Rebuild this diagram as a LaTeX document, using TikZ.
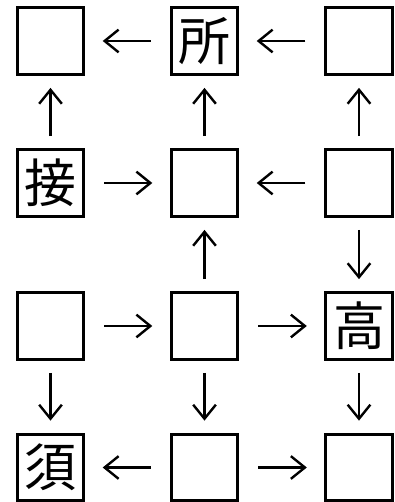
\documentclass[tikz,border=0pt]{standalone}
\usepackage{fontspec}
\newfontfamily\cjk{Noto Sans CJK JP}
\usetikzlibrary{arrows.meta,positioning,calc}

\tikzset{
  box/.style={draw, line width=2.3pt, minimum size=50pt, inner sep=0pt, font=\cjk\fontsize{39}{39}\selectfont},
  hconn/.style={-{Straight Barb[length=10.5pt,width=17pt]}, line width=1.8pt, shorten <=14pt, shorten >=13pt},
  vconn/.style={-{Straight Barb[length=10.5pt,width=17pt]}, line width=1.8pt, shorten <=9pt, shorten >=9pt}
}

\begin{document}
\begin{tikzpicture}[x=0.75pt,y=0.75pt]

\useasboundingbox (0,0) rectangle (394,502);

% top row
\node[box] (a1) at (50.5, 461) { };
\node[box] (a2) at (204.5, 461) {所};
\node[box] (a3) at (359, 461) { };

% second row
\node[box] (b1) at (50.5, 319) {接};
\node[box] (b2) at (204.5, 319) { };
\node[box] (b3) at (359, 319) { };

% third row
\node[box] (c1) at (50.5, 176) { };
\node[box] (c2) at (204.5, 176) { };
\node[box] (c3) at (359, 176) {高};

% bottom row
\node[box] (d1) at (50.5, 34.5) {須};
\node[box] (d2) at (204.5, 34.5) { };
\node[box] (d3) at (359, 34.5) { };

\draw[hconn] (a2) to (a1);
\draw[hconn] (a3) to (a2);

\draw[vconn] (b1) to (a1);
\draw[vconn] (b2) to (a2);
\draw[vconn] (b3) to (a3);

\draw[hconn] (b1) to (b2);
\draw[hconn] (b3) to (b2);

\draw[vconn] (c2) to (b2);
\draw[vconn] (b3) to (c3);

\draw[hconn] (c1) to (c2);
\draw[hconn] (c2) to (c3);

\draw[vconn] (c1) to (d1);
\draw[vconn] (c2) to (d2);
\draw[vconn] (c3) to (d3);

\draw[hconn] (d2) to (d1);
\draw[hconn] (d2) to (d3);

\end{tikzpicture}
\end{document}
